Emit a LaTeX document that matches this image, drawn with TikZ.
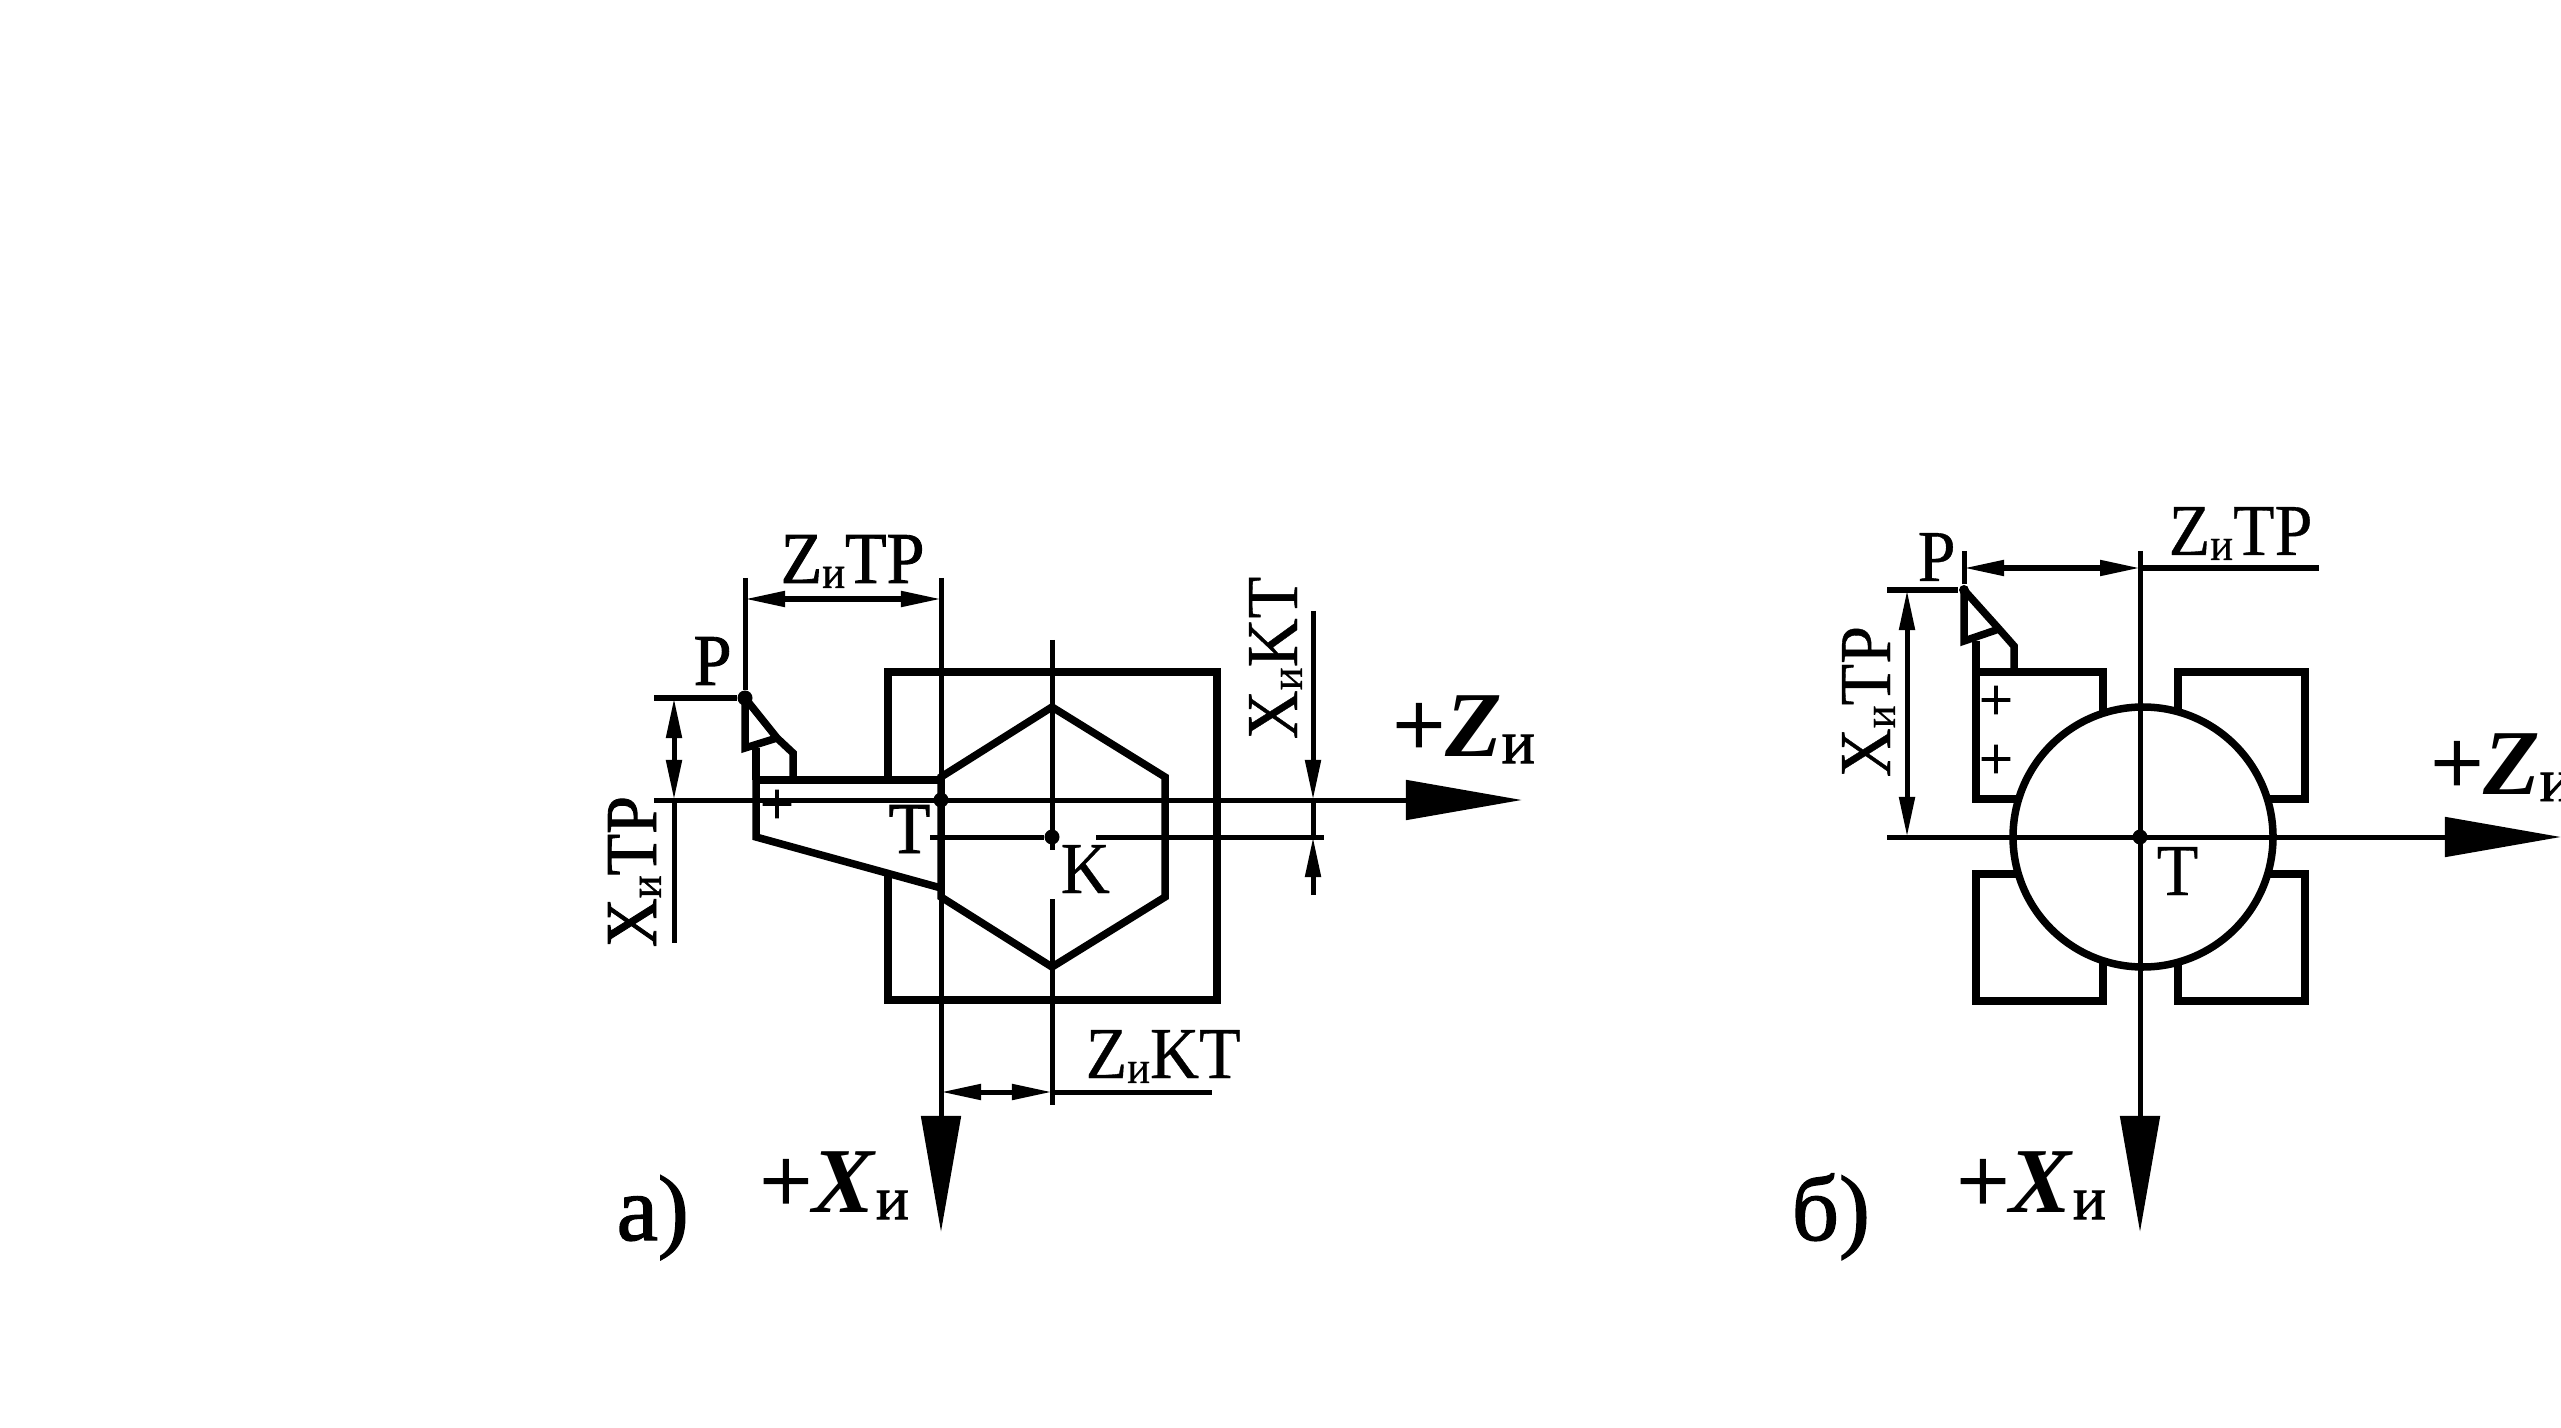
\documentclass[tikz,border=0pt]{standalone}
\usepackage{fontspec}
\setmainfont{Liberation Serif}
\newfontfamily\dimfont[FakeStretch=.93,FakeBold=1.2]{Liberation Serif}
\newfontfamily\dimlight[FakeStretch=.93,FakeBold=.5]{Liberation Serif}
\newfontfamily\axfont[FakeBold=1.5]{Liberation Serif}
\usetikzlibrary{arrows.meta}
\newcommand{\subi}[1]{\raisebox{-1.4pt}{\fontsize{13}{13}\selectfont #1}}
\newcommand{\axlab}[2]{{\axfont+}\textbf{\textit{#1}}\raisebox{-2pt}{\axfont\fontsize{17.5}{17.5}\selectfont #2}}
\tikzset{
  thinl/.style={line width=.05cm},
  thickl/.style={line width=.075cm,line join=miter},
  dimboth/.style={thinl,{Triangle[length=.4cm,width=.15cm]}-{Triangle[length=.4cm,width=.15cm]}},
  dimend/.style={thinl,-{Triangle[length=.4cm,width=.15cm]}},
  axisl/.style={thinl,-{Triangle[length=1.16cm,width=.39cm]}},
  lab/.style={inner sep=0,anchor=base west,font=\dimfont\fontsize{20.8}{20.8}\selectfont},
  lablight/.style={inner sep=0,anchor=base west,font=\dimlight\fontsize{20.8}{20.8}\selectfont},
  biglab/.style={inner sep=0,anchor=base west,font=\fontsize{26.4}{26.4}\selectfont},
  partlab/.style={inner sep=0,anchor=base west,font=\axfont\fontsize{26.4}{26.4}\selectfont},
  plusm/.style={inner sep=0,font=\axfont\fontsize{17}{17}\selectfont},
  dot/.style={circle,fill=black,inner sep=0,minimum size=.15cm},
  smalldot/.style={circle,fill=black,inner sep=0,minimum size=.1cm}
}
\begin{document}
\begin{tikzpicture}[x=.01cm,y=-.01cm]
\useasboundingbox (0,0) rectangle (2561,1428);
% a) part
\draw[thickl] (888,780)--(888,672)--(1217,672)--(1217,1000)--(888,1000)--(888,873);
\draw[thickl] (1052,707)--(1165,777)--(1165,897)--(1052,967)--(941,897)--(941,777)--cycle;
\draw[thickl,fill=white] (756,780)--(941,780)--(941,888)--(756,837)--cycle;
\draw[line width=.085cm] (756,780)--(941,780);
\draw[thickl] (756,780)--(756,748);
\draw[thickl,fill=white] (745,698)--(745,748)--(777,738);
\draw[thickl] (745,698)--(777,738)--(793,753)--(793,780);
\coordinate (zl) at (654,800);
\coordinate (zr) at (1522,800);
\coordinate (xt) at (941,578);
\coordinate (xb) at (941,1232);
\draw[axisl] (zl)--(zr);
\draw[axisl] (xt)--(xb);
\node[dot] (pa) at (745,698) {};
\node[dot] (ta) at (941,800) {};
\node[dot] (ka) at (1052,837) {};
\coordinate (pext) at (745,578);
\coordinate (pleft) at (654,698);
\draw[thinl] (pext)--(pa);
\draw[thinl] (pleft)--(pa);
\draw[dimboth] (745,599)--(941,599);
\coordinate (xa) at (674,698);
\coordinate (xc) at (674,800);
\coordinate (xd) at (674,943);
\draw[dimboth] (xa)--(xc);
\draw[thinl] (xc)--(xd);
\coordinate (kt) at (1052,640);
\coordinate (kb) at (1052,850);
\coordinate (kc) at (1052,899);
\coordinate (kd) at (1052,1105);
\coordinate (kl) at (930,837);
\coordinate (kr) at (1096,837);
\coordinate (kx) at (1324,837);
\draw[thinl] (kt)--(kb);
\draw[thinl] (kc)--(kd);
\draw[thinl] (kl)--(ka);
\draw[thinl] (kr)--(kx);
\coordinate (xka) at (1313,611);
\coordinate (xkb) at (1313,800);
\coordinate (xkc) at (1313,837);
\coordinate (xkd) at (1313,895);
\draw[dimend] (xka)--(xkb);
\draw[thinl] (xkb)--(xkc);
\draw[dimend] (xkd)--(xkc);
\coordinate (zka) at (941,1092);
\coordinate (zkb) at (1052,1092);
\coordinate (zkc) at (1212,1092);
\draw[dimboth] (zka)--(zkb);
\draw[thinl] (zkb)--(zkc);
\node[lab] (ztpa) at (780,583) {Z\subi{и}TP};
\node[lab,rotate=90] (xtpa) at (656,948) {X\subi{и}TP};
\node[lablight,rotate=90] (xkta) at (1297,740) {X\subi{и}KT};
\node[lablight] (zkta) at (1085,1078) {Z\subi{и}KT};
\node[lab] (plab) at (693,685) {P};
\node[lab] (tlab) at (888,853) {T};
\node[lablight] (klab) at (1060,893) {K};
\node[plusm] (plus) at (777,807) {+};
\node[biglab] (zaxa) at (1392,756) {\axlab{Z}{и}};
\node[biglab] (xaxa) at (759,1212) {\axlab{X}{и}};
\node[partlab] (capa) at (616,1240) {а)};
% b) part
\foreach \x/\y in {1976/672,2178/672,1976/874,2178/874}
  \draw[thickl] (\x,\y) rectangle ++(127,127);
\draw[thickl] (1976,672)--(1976,641);
\draw[thickl,fill=white] (1964,590)--(1964,641)--(1999,629);
\draw[thickl] (1964,590)--(1999,629)--(2014,646)--(2014,672);
\node[plusm] (plusb) at (1996,703) {+};
\node[plusm] (plusc) at (1996,762) {+};
\draw[thickl,fill=white] (2143,837) circle (130);
\coordinate (zbl) at (1887,837);
\coordinate (zbr) at (2561,837);
\coordinate (xbt) at (2140,551);
\coordinate (xbb) at (2140,1232);
\draw[axisl] (zbl)--(zbr);
\draw[axisl] (xbt)--(xbb);
\node[smalldot] (pb) at (1964,590) {};
\node[dot] (tb) at (2140,837) {};
\coordinate (pbext) at (1964,551);
\coordinate (pbleft) at (1887,590);
\draw[thinl] (pbext)--(pb);
\draw[thinl] (pbleft)--(pb);
\coordinate (zba) at (1964,568);
\coordinate (zbb) at (2140,568);
\coordinate (zbc) at (2319,568);
\draw[dimboth] (zba)--(zbb);
\draw[thinl] (zbb)--(zbc);
\draw[dimboth] (1907,590)--(1907,837);
\node[lablight] (ztpb) at (2168,555) {Z\subi{и}TP};
\node[lablight,rotate=90] (xtpb) at (1890,778) {X\subi{и}TP};
\node[lablight] (plabb) at (1917,581) {P};
\node[lablight] (tlabb) at (2156,895) {T};
\node[biglab] (zaxb) at (2430,794) {\axlab{Z}{и}};
\node[biglab] (xaxb) at (1956,1212) {\axlab{X}{и}};
\node[partlab] (capb) at (1791,1240) {б)};
\end{tikzpicture}
\end{document}
